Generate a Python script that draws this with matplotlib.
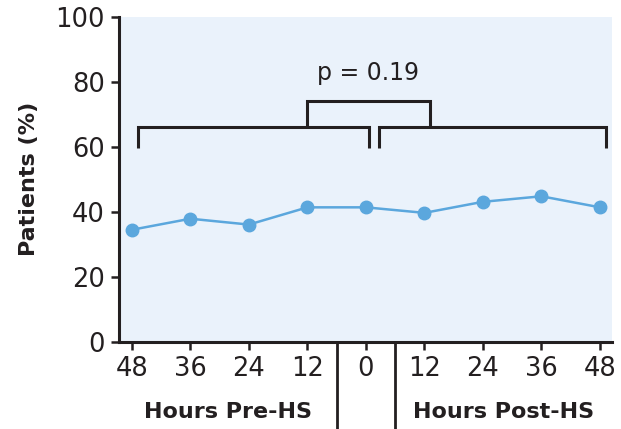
import matplotlib.pyplot as plt
from matplotlib import transforms

plt.rcParams['font.family'] = ['DejaVu Sans Condensed', 'DejaVu Sans']

hours = ['48', '36', '24', '12', '0', '12', '24', '36', '48']
patients = [34.5, 37.9, 36.1, 41.4, 41.4, 39.7, 43.1, 44.8, 41.4]
p_text = 'p = 0.19'

ink = '#231f20'
blue = '#5ba7dd'

fig = plt.figure(figsize=(6.21, 4.29), dpi=100)
ax = fig.add_axes([0.1916, 0.2028, 0.7934, 0.7582])
ax.set_facecolor('#eaf2fb')

x = list(range(len(hours)))
ax.plot(x, patients, color=blue, lw=1.8, marker='o', ms=9, zorder=3)

ax.set_xlim(-0.22, 8.2)
ax.set_ylim(0, 100)
ax.set_yticks([0, 20, 40, 60, 80, 100])
ax.set_xticks(x)
ax.set_xticklabels(hours)

for s in ['top', 'right']:
    ax.spines[s].set_visible(False)
for s in ['left', 'bottom']:
    ax.spines[s].set_linewidth(2.2)
    ax.spines[s].set_color(ink)
ax.tick_params(width=1.8, length=6, color=ink, labelsize=18.5, labelcolor=ink, pad=4)

ax.set_ylabel('Patients (%)', fontsize=16, fontweight='bold', color=ink, labelpad=12)

# brackets
kw = dict(color=ink, lw=2.2, solid_joinstyle='miter', solid_capstyle='butt')
ax.plot([0.1, 0.1, 4.05, 4.05], [59.6, 66.2, 66.2, 59.6], **kw)
ax.plot([4.22, 4.22, 8.1, 8.1], [59.6, 66.2, 66.2, 59.6], **kw)
ax.plot([3.0, 3.0, 5.1, 5.1], [66.2, 74.2, 74.2, 66.2], **kw)
ax.text(4.04, 82.7, p_text, ha='center', va='center', fontsize=17, color=ink)

# separators below the axis
trans = transforms.blended_transform_factory(ax.transData, ax.transAxes)
for xs in [3.5, 4.5]:
    ax.plot([xs, xs], [0, -0.27], transform=trans, clip_on=False, color=ink, lw=2.0)

ax.text(1.65, -0.215, 'Hours Pre-HS', transform=trans, ha='center', va='center',
        fontsize=16, fontweight='bold', color=ink)
ax.text(6.35, -0.215, 'Hours Post-HS', transform=trans, ha='center', va='center',
        fontsize=16, fontweight='bold', color=ink)

fig.savefig('out.png', dpi=100)
